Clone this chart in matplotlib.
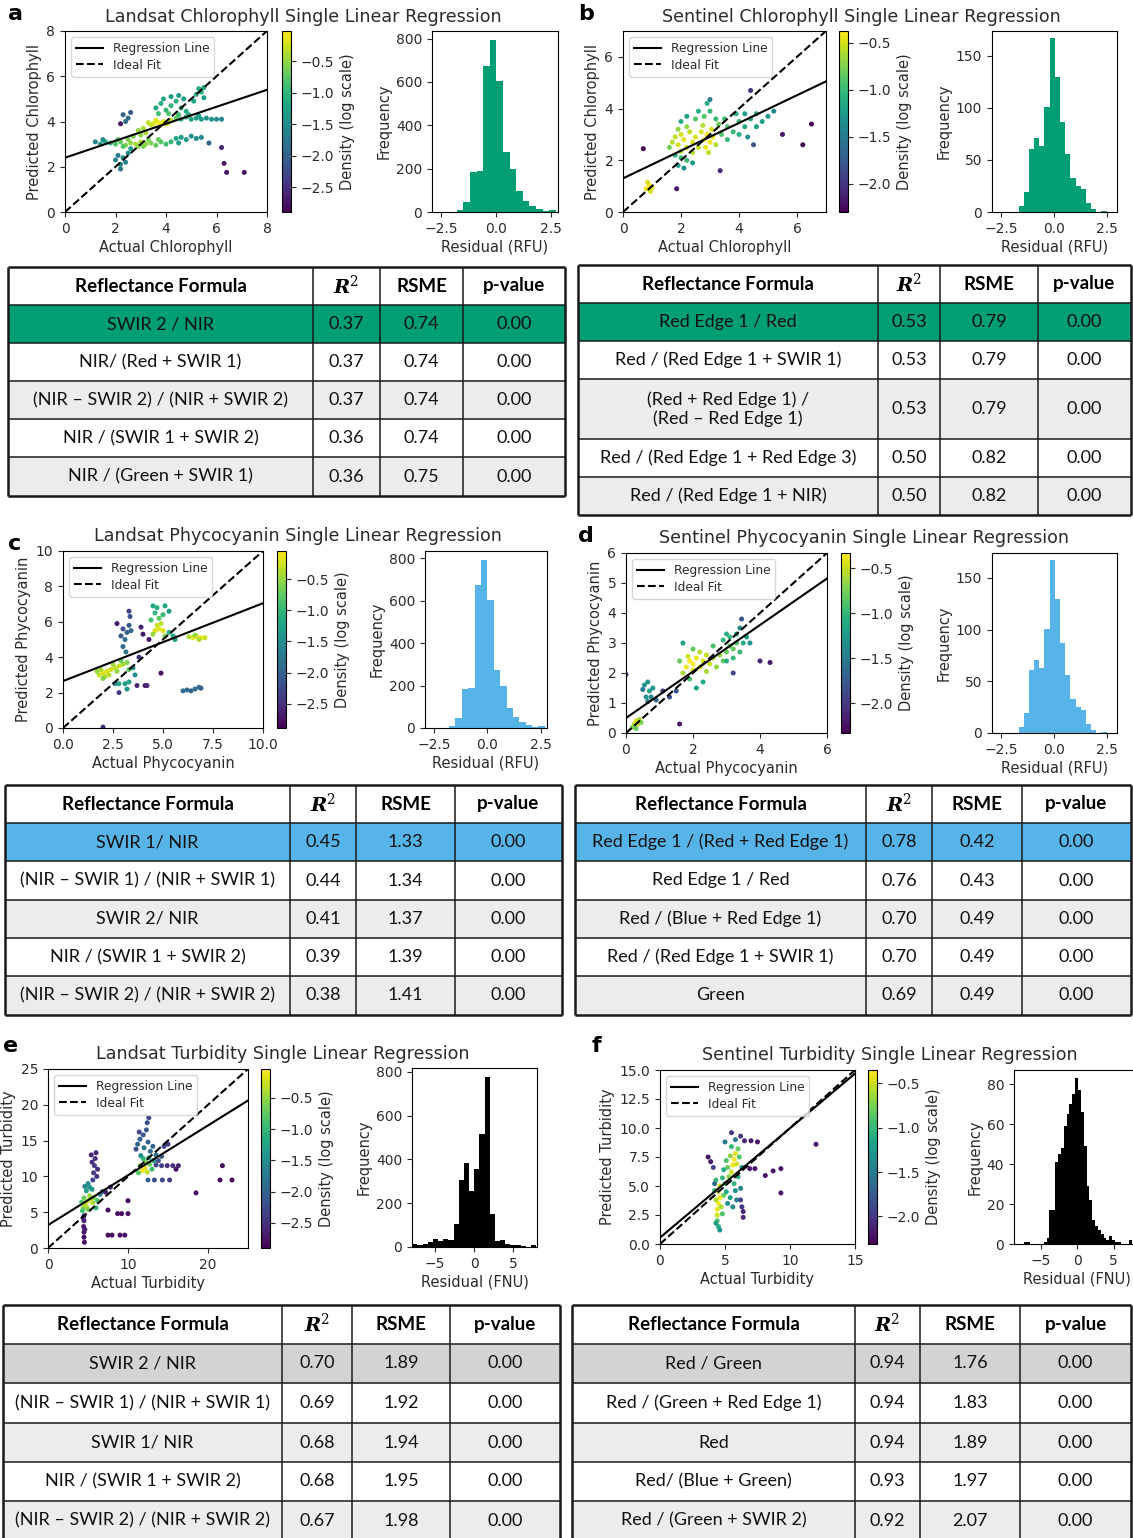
import numpy as np
import matplotlib.pyplot as plt

W, H = 1133, 1538
TXT = '#2b2b2b'
plt.rcParams['font.family'] = ['DejaVu Sans']
plt.rcParams['mathtext.fontset'] = 'dejavuserif'
plt.rcParams['text.color'] = TXT
plt.rcParams['axes.labelcolor'] = TXT
plt.rcParams['xtick.color'] = TXT
plt.rcParams['ytick.color'] = TXT

# ---------------- scatter points: (actual, predicted, log density) ----------------
pts_a = [
    (3.3, 3.95, -0.3), (3.5, 3.9, -0.15), (3.7, 3.95, -0.05), (3.9, 4.0, -0.1), (4.1, 3.95, -0.2),
    (3.6, 4.05, -0.15), (3.8, 3.85, -0.1), (4.0, 3.9, -0.15), (3.4, 3.85, -0.3), (4.2, 4.05, -0.35),
    (1.8, 3.05, -1.0), (2.0, 3.0, -0.8), (2.2, 3.1, -0.7), (2.4, 2.95, -0.6), (2.6, 3.05, -0.5),
    (2.8, 3.0, -0.4), (3.0, 3.1, -0.4), (3.2, 3.0, -0.5), (3.4, 3.05, -0.6), (3.6, 2.95, -0.7),
    (3.8, 3.1, -0.8), (4.0, 3.0, -0.9), (4.2, 3.1, -1.0), (2.1, 3.2, -0.8), (2.5, 3.2, -0.6),
    (2.9, 2.9, -0.5), (3.3, 3.2, -0.6), (3.7, 3.2, -0.7), (2.3, 2.9, -0.8), (3.1, 2.9, -0.6),
    (1.2, 3.1, -1.6), (1.4, 3.0, -1.4), (1.6, 3.1, -1.2), (1.5, 3.2, -1.5),
    (2.7, 3.35, -0.6), (3.0, 3.4, -0.5), (3.2, 3.5, -0.4), (2.9, 3.6, -0.5), (3.1, 3.7, -0.4),
    (4.4, 4.15, -0.7), (4.6, 4.1, -1.0), (4.8, 4.2, -1.1), (5.0, 4.1, -1.2), (5.2, 4.15, -1.3),
    (5.4, 4.1, -1.3), (5.6, 4.15, -1.4), (5.8, 4.1, -1.4), (6.0, 4.1, -1.5), (6.2, 4.1, -1.6),
    (4.5, 4.3, -0.9), (4.9, 4.3, -1.1), (5.3, 4.25, -1.3),
    (3.6, 4.6, -1.2), (3.8, 4.8, -1.1), (4.0, 4.5, -1.0), (4.2, 4.7, -1.0), (4.4, 4.9, -1.1),
    (4.6, 4.6, -1.1), (3.9, 5.0, -1.2), (4.2, 5.1, -1.3), (4.5, 5.15, -1.3), (4.7, 5.0, -1.3),
    (4.1, 4.35, -0.8), (3.7, 4.35, -0.9), (4.8, 4.45, -1.1),
    (5.2, 5.2, -1.1), (5.3, 5.45, -1.1), (5.4, 5.3, -1.1), (5.5, 5.5, -1.2), (5.1, 4.9, -1.2), (5.5, 5.05, -1.3),
    (4.4, 3.25, -1.2), (4.6, 3.3, -1.3), (4.8, 3.2, -1.3), (5.0, 3.35, -1.4), (5.2, 3.25, -1.5),
    (5.4, 3.3, -1.6), (4.5, 3.05, -1.3),
    (2.0, 2.3, -1.6), (2.2, 2.1, -1.6), (2.3, 2.4, -1.5), (2.4, 2.2, -1.6), (2.1, 2.5, -1.7),
    (2.5, 2.6, -1.5), (2.6, 2.8, -1.3), (2.2, 1.9, -1.8),
    (2.3, 4.3, -2.0), (2.5, 4.15, -1.9), (2.6, 4.4, -2.1), (2.4, 4.0, -1.9),
    (2.2, 3.9, -2.8), (5.7, 3.05, -2.0), (6.2, 2.85, -2.6), (6.3, 2.15, -2.7), (6.4, 1.75, -2.7), (7.1, 1.75, -2.8),
]
pts_b = [
    (0.8, 0.9, -0.4), (0.9, 1.05, -0.4), (1.0, 0.95, -0.45), (0.85, 1.15, -0.5), (0.95, 0.8, -0.5),
    (1.7, 2.7, -0.6), (1.8, 2.9, -0.55), (1.9, 2.6, -0.5), (2.0, 3.0, -0.5), (2.1, 2.8, -0.45),
    (2.2, 2.5, -0.5), (2.3, 3.1, -0.55), (2.4, 2.7, -0.5), (2.5, 2.9, -0.5), (1.9, 3.2, -0.7),
    (2.2, 3.3, -0.7), (1.6, 2.5, -0.8), (2.6, 2.5, -0.55), (2.0, 2.35, -0.6), (2.4, 2.3, -0.6),
    (2.8, 2.8, -0.4), (2.9, 3.0, -0.4), (3.0, 2.7, -0.4), (2.85, 2.5, -0.45), (3.05, 3.2, -0.5),
    (2.7, 3.1, -0.5), (3.1, 2.9, -0.45), (2.95, 2.3, -0.55), (3.2, 2.6, -0.6), (2.75, 3.35, -0.6),
    (2.5, 3.6, -0.9), (2.8, 3.7, -0.9), (3.0, 3.9, -1.0), (2.9, 4.2, -1.1), (2.6, 3.9, -1.1),
    (2.2, 3.7, -1.2), (2.0, 3.5, -1.1), (3.2, 3.6, -1.0),
    (3.4, 3.0, -0.9), (3.6, 3.3, -0.9), (3.8, 3.1, -1.0), (4.0, 3.5, -1.0), (4.2, 3.3, -1.1),
    (4.4, 3.6, -1.1), (4.6, 3.8, -1.2), (4.8, 3.5, -1.2), (5.0, 3.7, -1.3), (4.2, 3.8, -1.2),
    (3.9, 3.8, -1.1), (3.5, 3.6, -1.0), (4.6, 3.3, -1.2), (5.2, 3.9, -1.4), (4.0, 3.0, -1.1),
    (3.3, 3.4, -0.8), (4.3, 2.9, -1.3), (3.6, 2.8, -1.0),
    (1.9, 1.8, -1.2), (2.1, 1.7, -1.3), (2.2, 2.0, -1.0), (2.0, 2.1, -1.0), (2.4, 1.9, -1.2), (1.8, 2.2, -1.1),
    (0.7, 2.45, -2.3), (1.85, 0.9, -2.2), (3.35, 1.6, -2.1), (4.5, 2.6, -1.8), (4.4, 4.7, -2.0),
    (5.5, 3.0, -2.2), (6.2, 2.6, -2.3), (6.5, 3.4, -2.3), (3.0, 4.35, -1.5),
]
pts_c = [
    (1.8, 3.0, -0.3), (2.0, 3.1, -0.2), (2.2, 3.2, -0.2), (2.4, 3.3, -0.25), (2.6, 3.4, -0.3),
    (2.8, 3.5, -0.3), (3.0, 3.6, -0.4), (1.9, 3.3, -0.4), (2.1, 2.9, -0.4), (2.5, 3.6, -0.5),
    (2.3, 3.0, -0.35), (2.7, 3.2, -0.5), (3.2, 3.7, -0.6), (1.7, 3.2, -0.5), (2.9, 3.8, -0.7),
    (3.3, 3.3, -0.8), (2.0, 2.8, -0.6),
    (3.1, 2.5, -1.3), (3.2, 2.2, -1.4), (3.3, 2.6, -1.3), (2.8, 2.5, -1.2), (3.5, 3.4, -1.4),
    (3.6, 3.0, -1.5), (2.6, 2.5, -1.5),
    (3.0, 4.6, -1.9), (3.1, 5.0, -1.9), (3.2, 5.4, -2.0), (3.3, 5.8, -2.1), (3.35, 6.3, -2.2),
    (3.15, 4.3, -1.8), (2.9, 5.2, -2.1), (3.4, 5.5, -2.0), (3.3, 6.6, -2.4), (3.0, 5.6, -2.2),
    (3.9, 5.7, -2.6), (4.0, 5.3, -2.7), (4.3, 5.0, -2.7), (2.7, 5.9, -2.7), (4.2, 2.4, -2.6),
    (3.7, 2.4, -2.6), (4.1, 2.4, -2.6), (4.9, 3.1, -2.8), (2.0, 0.05, -2.5), (2.8, 2.0, -2.4), (3.8, 4.0, -2.5),
    (4.6, 5.5, -0.2), (4.8, 5.6, -0.15), (5.0, 5.5, -0.2), (4.7, 5.8, -0.3), (4.9, 5.9, -0.35),
    (4.5, 5.3, -0.5), (5.1, 5.2, -0.6), (4.8, 6.2, -0.8), (4.6, 6.5, -1.0), (5.0, 6.4, -1.0),
    (4.7, 6.8, -1.1), (5.1, 6.9, -1.2), (4.5, 6.9, -1.2), (5.3, 6.6, -1.3), (4.4, 6.1, -0.9),
    (5.3, 5.4, -1.1), (5.5, 5.2, -1.2), (5.6, 5.0, -1.3),
    (6.3, 5.15, -0.4), (6.5, 5.1, -0.2), (6.7, 5.15, -0.1), (6.9, 5.1, -0.1), (7.1, 5.1, -0.3),
    (6.6, 5.25, -0.5), (6.8, 5.0, -0.4),
    (6.0, 2.1, -1.9), (6.2, 2.15, -1.9), (6.4, 2.1, -2.0), (6.6, 2.2, -1.9), (6.8, 2.3, -1.9), (6.9, 2.25, -2.0),
]
pts_d = [
    (0.25, 0.3, -0.5), (0.3, 0.4, -0.45), (0.35, 0.3, -0.5), (0.4, 0.45, -0.6), (0.2, 0.2, -0.7),
    (0.3, 0.15, -0.8), (0.45, 0.35, -0.7),
    (0.55, 1.6, -1.3), (0.65, 1.7, -1.3), (0.7, 1.4, -1.2), (0.8, 1.5, -1.3), (0.6, 1.2, -1.3),
    (0.75, 1.2, -1.4), (0.5, 1.45, -1.5), (0.65, 1.05, -1.5),
    (1.8, 2.2, -0.4), (1.9, 2.4, -0.35), (2.0, 2.3, -0.35), (2.1, 2.5, -0.4), (2.2, 2.2, -0.4),
    (2.0, 2.1, -0.4), (1.85, 2.55, -0.5), (2.3, 2.4, -0.45), (2.4, 2.6, -0.5), (2.5, 2.3, -0.5),
    (2.6, 2.5, -0.55), (2.2, 2.7, -0.55), (1.7, 2.0, -0.6), (2.4, 2.05, -0.6), (2.7, 2.2, -0.65),
    (2.8, 2.6, -0.65), (1.6, 2.4, -0.8), (2.0, 2.8, -0.8), (1.9, 1.8, -0.9), (2.3, 1.7, -1.1),
    (2.1, 1.5, -1.2), (1.7, 3.0, -1.2), (2.6, 2.9, -0.9), (2.9, 2.4, -0.8),
    (3.0, 2.7, -0.8), (3.1, 2.9, -0.8), (3.2, 2.8, -0.8), (3.3, 3.0, -0.9), (3.1, 3.2, -1.0),
    (3.4, 2.7, -1.0), (3.5, 3.0, -1.1), (3.6, 3.2, -1.2), (3.3, 3.3, -1.1), (2.9, 3.1, -1.0),
    (3.0, 3.3, -1.1), (3.7, 3.0, -1.3), (3.2, 2.5, -1.0), (3.4, 3.5, -1.4), (3.0, 2.4, -1.1),
    (0.0, 1.95, -2.0), (1.6, 0.3, -2.2), (4.0, 2.4, -2.1), (4.3, 2.35, -2.2), (3.2, 2.0, -1.9),
    (3.45, 3.8, -1.8), (1.3, 1.2, -1.9), (1.1, 1.4, -2.0), (1.5, 1.4, -1.8), (0.9, 1.1, -1.7),
]
pts_e = [
    (4.6, 6.2, -0.3), (5.0, 6.6, -0.2), (5.4, 6.9, -0.25), (4.8, 5.8, -0.35), (5.6, 6.3, -0.4),
    (4.4, 5.6, -0.5), (5.2, 7.3, -0.5), (5.8, 7.0, -0.6), (6.2, 6.6, -0.9), (4.2, 6.4, -0.8),
    (4.5, 7.0, -0.7), (5.0, 5.4, -0.6), (6.0, 5.6, -1.0), (4.3, 5.2, -0.9),
    (4.8, 8.0, -1.3), (5.2, 8.5, -1.4), (5.0, 9.0, -1.5), (5.5, 8.2, -1.4), (4.6, 8.6, -1.6),
    (6.5, 7.5, -1.6), (6.8, 7.9, -1.7),
    (4.5, 4.5, -2.5), (4.5, 3.8, -2.6), (4.45, 3.0, -2.7), (4.5, 2.2, -2.7), (4.5, 1.5, -2.8),
    (4.55, 0.8, -2.8), (4.4, 4.2, -2.6), (4.6, 2.6, -2.7),
    (5.6, 9.5, -2.3), (5.7, 10.5, -2.4), (5.8, 11.5, -2.4), (5.9, 12.5, -2.5), (6.0, 13.3, -2.6),
    (5.5, 12.0, -2.5), (6.1, 10.0, -2.5), (5.4, 13.0, -2.6), (6.2, 11.0, -2.5),
    (7.5, 1.8, -2.8), (8.0, 1.8, -2.8), (9.0, 1.8, -2.8), (9.6, 1.8, -2.8), (8.7, 4.8, -2.8),
    (9.2, 4.8, -2.8), (10.0, 4.8, -2.8), (10.0, 6.6, -2.8), (7.5, 5.3, -2.8), (7.8, 8.5, -2.6),
    (7.2, 7.8, -2.6), (18.5, 7.7, -2.8), (21.8, 11.5, -2.8), (21.5, 9.5, -2.8), (23.0, 9.5, -2.8), (16.0, 11.0, -2.8),
    (11.8, 10.8, -0.1), (12.1, 11.2, -0.15), (12.4, 10.6, -0.3), (11.5, 11.5, -0.6), (12.7, 11.7, -0.7),
    (12.2, 12.0, -0.6), (11.3, 10.5, -0.8), (13.0, 11.0, -0.9), (11.9, 12.5, -1.0), (12.6, 12.6, -1.2),
    (13.2, 12.2, -1.3), (11.6, 12.9, -1.5),
    (11.2, 14.5, -2.0), (11.5, 15.2, -2.0), (11.9, 15.8, -2.1), (12.3, 16.5, -2.1), (12.0, 14.0, -1.8),
    (12.5, 14.8, -2.0), (12.8, 13.5, -1.9), (11.0, 13.8, -2.2), (12.4, 17.5, -2.2), (12.6, 18.2, -2.3),
    (13.1, 14.2, -2.0), (11.4, 16.2, -2.3),
    (13.5, 11.6, -2.3), (14.2, 11.5, -2.4), (14.9, 11.5, -2.5), (15.6, 11.5, -2.5), (16.3, 11.5, -2.6),
    (13.8, 12.2, -2.2), (12.5, 9.5, -2.0), (13.3, 9.5, -2.2), (14.3, 9.5, -2.3), (15.2, 9.5, -2.4),
    (13.5, 13.0, -1.8), (14.2, 12.8, -2.0), (14.5, 14.2, -2.3), (15.0, 14.5, -2.4),
]
pts_f = [
    (4.4, 3.0, -0.4), (4.5, 3.5, -0.3), (4.6, 4.0, -0.3), (4.5, 4.5, -0.35), (4.4, 2.5, -0.5),
    (4.6, 5.0, -0.5), (4.3, 3.8, -0.6), (4.7, 3.2, -0.6), (4.4, 2.0, -0.9), (4.5, 1.5, -1.1),
    (4.6, 1.2, -1.3), (4.3, 5.5, -1.0), (4.8, 5.7, -1.0), (4.2, 4.6, -1.0), (4.8, 2.6, -0.9),
    (4.9, 4.2, -0.8), (4.3, 1.8, -1.2),
    (5.6, 6.8, -0.4), (5.7, 7.3, -0.35), (5.8, 7.8, -0.45), (5.5, 6.2, -0.5), (5.9, 6.9, -0.5),
    (5.4, 7.6, -0.7), (6.0, 8.2, -0.8), (5.3, 5.8, -0.7), (5.2, 6.6, -0.8), (5.5, 8.4, -1.0),
    (6.1, 7.5, -0.9), (5.0, 5.2, -0.9), (5.1, 4.5, -1.1), (5.4, 4.0, -1.2), (5.7, 5.2, -1.0),
    (6.0, 5.8, -1.1), (5.8, 4.6, -1.3), (5.2, 3.5, -1.3), (6.2, 4.8, -1.4), (6.3, 6.6, -1.3),
    (5.6, 3.2, -1.4), (5.0, 8.8, -1.5), (5.8, 9.0, -1.5), (5.1, 7.2, -0.9), (4.9, 6.4, -1.1), (5.9, 3.8, -1.5),
    (3.7, 7.5, -2.2), (3.9, 7.1, -2.2), (5.5, 9.6, -2.0), (6.2, 9.3, -2.0), (6.5, 8.9, -2.1),
    (7.0, 8.9, -2.2), (7.5, 8.8, -2.2), (6.9, 6.5, -2.2), (7.3, 6.5, -2.2), (8.1, 5.9, -2.2),
    (8.7, 6.3, -2.2), (9.3, 6.5, -2.2), (9.3, 4.4, -2.2), (12.0, 8.6, -2.2), (6.4, 2.3, -2.1),
    (6.3, 3.2, -2.0), (6.2, 3.8, -1.9), (6.4, 2.8, -2.1), (4.2, 5.2, -1.6), (4.1, 6.6, -1.9),
]

# regression fits (slope, intercept)
reg_a = (0.375, 2.4)
reg_b = (0.536, 1.3)
reg_c = (0.44, 2.65)
reg_d = (0.775, 0.5)
reg_e = (0.696, 3.2)
reg_f = (0.943, 0.55)

# residual histograms: first bin edge, bin width, counts
hist_a = (-2.1, 0.30, [2, 8, 45, 183, 189, 675, 794, 606, 275, 198, 95, 52, 26, 14, 3, 9])
hist_b = (-1.685, 0.245, [6, 19, 61, 71, 63, 101, 167, 130, 87, 56, 33, 25, 22, 9, 3, 0, 1])
hist_c = hist_a
hist_d = hist_b
hist_e = (-7.91, 0.661, [15, 8, 14, 21, 38, 26, 38, 33, 105, 307, 383, 258, 355, 516, 777, 150,
                         29, 33, 14, 11, 9, 3, 2, 8])
hist_f = (-7.3, 0.39, [1, 1, 0, 0, 0, 0, 0, 1, 3, 17, 17, 41, 45, 48, 59, 65, 70, 75, 83, 77, 66,
                       49, 29, 22, 12, 9, 7, 5, 3, 2, 4, 2, 1, 1, 0, 0, 0, 2])

# tables
formula_a = ['SWIR 2 / NIR', 'NIR/ (Red + SWIR 1)', '(NIR – SWIR 2) / (NIR + SWIR 2)',
             'NIR / (SWIR 1 + SWIR 2)', 'NIR / (Green + SWIR 1)']
r2_a = [0.37, 0.37, 0.37, 0.36, 0.36]
rmse_a = [0.74, 0.74, 0.74, 0.74, 0.75]
formula_b = ['Red Edge 1 / Red', 'Red / (Red Edge 1 + SWIR 1)', '(Red + Red Edge 1) /\n(Red – Red Edge 1)',
             'Red / (Red Edge 1 + Red Edge 3)', 'Red / (Red Edge 1 + NIR)']
r2_b = [0.53, 0.53, 0.53, 0.50, 0.50]
rmse_b = [0.79, 0.79, 0.79, 0.82, 0.82]
formula_c = ['SWIR 1/ NIR', '(NIR – SWIR 1) / (NIR + SWIR 1)', 'SWIR 2/ NIR',
             'NIR / (SWIR 1 + SWIR 2)', '(NIR – SWIR 2) / (NIR + SWIR 2)']
r2_c = [0.45, 0.44, 0.41, 0.39, 0.38]
rmse_c = [1.33, 1.34, 1.37, 1.39, 1.41]
formula_d = ['Red Edge 1 / (Red + Red Edge 1)', 'Red Edge 1 / Red', 'Red / (Blue + Red Edge 1)',
             'Red / (Red Edge 1 + SWIR 1)', 'Green']
r2_d = [0.78, 0.76, 0.70, 0.70, 0.69]
rmse_d = [0.42, 0.43, 0.49, 0.49, 0.49]
formula_e = ['SWIR 2 / NIR', '(NIR – SWIR 1) / (NIR + SWIR 1)', 'SWIR 1/ NIR',
             'NIR / (SWIR 1 + SWIR 2)', '(NIR – SWIR 2) / (NIR + SWIR 2)']
r2_e = [0.70, 0.69, 0.68, 0.68, 0.67]
rmse_e = [1.89, 1.92, 1.94, 1.95, 1.98]
formula_f = ['Red / Green', 'Red / (Green + Red Edge 1)', 'Red', 'Red/ (Blue + Green)', 'Red / (Green + SWIR 2)']
r2_f = [0.94, 0.94, 0.94, 0.93, 0.92]
rmse_f = [1.76, 1.83, 1.89, 1.97, 2.07]
pval = [0.00, 0.00, 0.00, 0.00, 0.00]

GREEN, BLUE, GREY = '#009E73', '#56B4E9', '#d3d3d3'
TICK, LAB = 10, 10.5

fig = plt.figure(figsize=(W / 100, H / 100), dpi=100)


def box(x0, y0, x1, y1):
    return fig.add_axes([x0 / W, 1 - y1 / H, (x1 - x0) / W, (y1 - y0) / H])


def panel(sc, cb, hi, pts, reg, lim, ticks, ticklabels, crange, name, hist, hcolor, unit,
          hxlim, hylim, hxticks, hyticks):
    ax = box(*sc)
    x, y, d = zip(*pts)
    s = ax.scatter(x, y, c=d, cmap='viridis', vmin=crange[0], vmax=crange[1], s=13, linewidths=0)
    ax.axline((0, reg[1]), slope=reg[0], color='black', lw=1.5, label='Regression Line')
    ax.axline((0, 0), slope=1, color='black', lw=1.5, ls='--', label='Ideal Fit')
    ax.set_xlim(0, lim)
    ax.set_ylim(0, lim)
    ax.set_xticks(ticks, ticklabels, fontsize=TICK)
    ax.set_yticks(ticks, ticklabels, fontsize=TICK)
    ax.set_xlabel('Actual ' + name, fontsize=LAB, labelpad=3)
    ax.set_ylabel('Predicted ' + name, fontsize=LAB, labelpad=3)
    ax.legend(loc='upper left', fontsize=8.8, handlelength=2.2, borderpad=0.4, labelspacing=0.3)

    cax = box(*cb)
    cbar = fig.colorbar(s, cax=cax)
    cbar.set_ticks([t for t in [-0.5, -1.0, -1.5, -2.0, -2.5] if t > crange[0]])
    cax.tick_params(labelsize=TICK)
    cbar.set_label('Density (log scale)', fontsize=LAB, labelpad=4)

    hx = box(*hi)
    start, width, counts = hist
    edges = start + width * np.arange(len(counts) + 1)
    hx.hist(edges[:-1], bins=edges, weights=counts, color=hcolor)
    hx.set_xlim(*hxlim)
    hx.set_ylim(*hylim)
    hx.set_xticks(hxticks)
    hx.set_yticks(hyticks)
    hx.tick_params(labelsize=TICK)
    hx.set_xlabel(f'Residual ({unit})', fontsize=LAB, labelpad=3)
    hx.set_ylabel('Frequency', fontsize=LAB, labelpad=3)


panel((65, 31, 267, 212), (282, 31, 291, 212), (432, 31, 558, 212), pts_a, reg_a, 8,
      [0, 2, 4, 6, 8], ['0', '2', '4', '6', '8'], (-2.89, -0.02), 'Chlorophyll', hist_a, GREEN, 'RFU',
      (-2.93, 2.8), (0, 835), [-2.5, 0, 2.5], [0, 200, 400, 600, 800])
panel((623, 31, 826, 212), (839, 31, 848, 212), (992, 31, 1117, 212), pts_b, reg_b, 7,
      [0, 2, 4, 6], ['0', '2', '4', '6'], (-2.30, -0.375), 'Chlorophyll', hist_b, GREEN, 'RFU',
      (-2.94, 2.97), (0, 174), [-2.5, 0, 2.5], [0, 50, 100, 150])
panel((63, 551, 263, 728), (277, 551, 286, 728), (425, 551, 547, 728), pts_c, reg_c, 10,
      [0, 2.5, 5, 7.5, 10], ['0.0', '2.5', '5.0', '7.5', '10.0'], (-2.89, -0.05), 'Phycocyanin',
      hist_c, BLUE, 'RFU', (-2.93, 2.8), (0, 835), [-2.5, 0, 2.5], [0, 200, 400, 600, 800])
panel((626, 553, 827, 733), (841, 553, 850, 733), (992, 553, 1117, 733), pts_d, reg_d, 6,
      [0, 2, 4, 6], ['0', '2', '4', '6'], (-2.33, -0.33), 'Phycocyanin', hist_d, BLUE, 'RFU',
      (-2.94, 2.97), (0, 174), [-2.5, 0, 2.5], [0, 50, 100, 150])
panel((48, 1069, 248, 1248), (261, 1069, 270, 1248), (412, 1068, 537, 1247), pts_e, reg_e, 25,
      [0, 10, 20], ['0', '10', '20'], (-2.90, -0.04), 'Turbidity', hist_e, 'black', 'FNU',
      (-7.95, 8.05), (0, 818), [-5, 0, 5], [0, 200, 400, 600, 800])
panel((660, 1070, 855, 1244), (868, 1070, 877, 1244), (1014, 1070, 1140, 1244), pts_f, reg_f, 15,
      [0, 5, 10, 15], ['0', '5', '10', '15'], (-2.31, -0.35), 'Turbidity', hist_f, 'black', 'FNU',
      (-8.65, 8.6), (0, 87), [-5, 0, 5], [0, 20, 40, 60, 80])

# y ticks differ from x ticks on some panels
axes = fig.axes
axes[3].set_yticks([0, 2, 4, 6], ['0', '2', '4', '6'], fontsize=TICK)
axes[6].set_yticks([0, 2, 4, 6, 8, 10], ['0', '2', '4', '6', '8', '10'], fontsize=TICK)
axes[9].set_yticks([0, 1, 2, 3, 4, 5, 6], ['0', '1', '2', '3', '4', '5', '6'], fontsize=TICK)
axes[12].set_yticks([0, 5, 10, 15, 20, 25], ['0', '5', '10', '15', '20', '25'], fontsize=TICK)
axes[15].set_yticks([0, 2.5, 5, 7.5, 10, 12.5, 15],
                    ['0.0', '2.5', '5.0', '7.5', '10.0', '12.5', '15.0'], fontsize=TICK)

titles = [('Landsat Chlorophyll Single Linear Regression', 303, 17),
          ('Sentinel Chlorophyll Single Linear Regression', 861, 17),
          ('Landsat Phycocyanin Single Linear Regression', 298, 536),
          ('Sentinel Phycocyanin Single Linear Regression', 864, 538),
          ('Landsat Turbidity Single Linear Regression', 283, 1054),
          ('Sentinel Turbidity Single Linear Regression', 890, 1055)]
for t, tx, ty in titles:
    fig.text(tx / W, 1 - ty / H, t, ha='center', va='center', fontsize=12.6)
for lab, lx, ly in [('a', 8, 14), ('b', 578, 14), ('c', 8, 544), ('d', 578, 536), ('e', 3, 1046), ('f', 592, 1046)]:
    fig.text(lx / W, 1 - ly / H, lab, ha='left', va='center', fontsize=16, fontweight='bold', color='black')

# tables drawn in pixel coordinates on an overlay axes
tab = fig.add_axes([0, 0, 1, 1])
tab.set_xlim(0, W)
tab.set_ylim(H, 0)
tab.axis('off')


def draw_table(cols, rows_y, formulas, r2, rmse, hl):
    x0, x1 = cols[0], cols[-1]
    for i in range(len(rows_y) - 1):
        fc = hl if i == 1 else ('#ececec' if i in (3, 5) else 'white')
        tab.add_patch(plt.Rectangle((x0, rows_y[i]), x1 - x0, rows_y[i + 1] - rows_y[i], fc=fc, ec='none'))
    for j, yv in enumerate(rows_y):
        lw = 1.8 if j in (0, len(rows_y) - 1) else 1.1
        tab.plot([x0, x1], [yv, yv], color='#1a1a1a', lw=lw, solid_capstyle='butt')
    for j, xv in enumerate(cols):
        lw = 1.8 if j in (0, len(cols) - 1) else 1.1
        tab.plot([xv, xv], [rows_y[0], rows_y[-1]], color='#1a1a1a', lw=lw, solid_capstyle='butt')
    cx = [(cols[k] + cols[k + 1]) / 2 for k in range(4)]
    hy = (rows_y[0] + rows_y[1]) / 2
    header = ['Reflectance Formula', r'$\boldsymbol{R}^2$', 'RSME', 'p-value']
    for k, h in enumerate(header):
        if k == 1:
            tab.text(cx[k], hy, h, ha='center', va='center', fontsize=14, color='black')
        else:
            tab.text(cx[k], hy, h, ha='center', va='center', fontsize=13.5, fontweight='bold',
                     family=['Lato', 'DejaVu Sans'], color='black')
    for i in range(5):
        ry = (rows_y[i + 1] + rows_y[i + 2]) / 2
        vals = [formulas[i], f'{r2[i]:.2f}', f'{rmse[i]:.2f}', f'{pval[i]:.2f}']
        for k, v in enumerate(vals):
            tab.text(cx[k], ry, v, ha='center', va='center', fontsize=13, linespacing=1.2,
                     family=['Lato', 'DejaVu Sans'], color='#111111')


draw_table([8, 313, 380, 463, 565], [267, 305, 343, 381, 419, 457, 496], formula_a, r2_a, rmse_a, GREEN)
draw_table([578, 878, 940, 1038, 1131], [265, 303, 341, 379, 439, 477, 515], formula_b, r2_b, rmse_b, GREEN)
draw_table([5, 290, 356, 455, 562], [785, 823, 861, 900, 938, 976, 1015], formula_c, r2_c, rmse_c, BLUE)
draw_table([575, 866, 932, 1022, 1131], [785, 823, 861, 900, 938, 976, 1015], formula_d, r2_d, rmse_d, BLUE)
draw_table([3, 282, 352, 450, 560], [1305, 1344, 1383, 1423, 1462, 1501, 1540], formula_e, r2_e, rmse_e, GREY)
draw_table([572, 855, 920, 1020, 1131], [1305, 1344, 1383, 1423, 1462, 1501, 1540], formula_f, r2_f, rmse_f, GREY)

fig.savefig('out.png', dpi=100)
